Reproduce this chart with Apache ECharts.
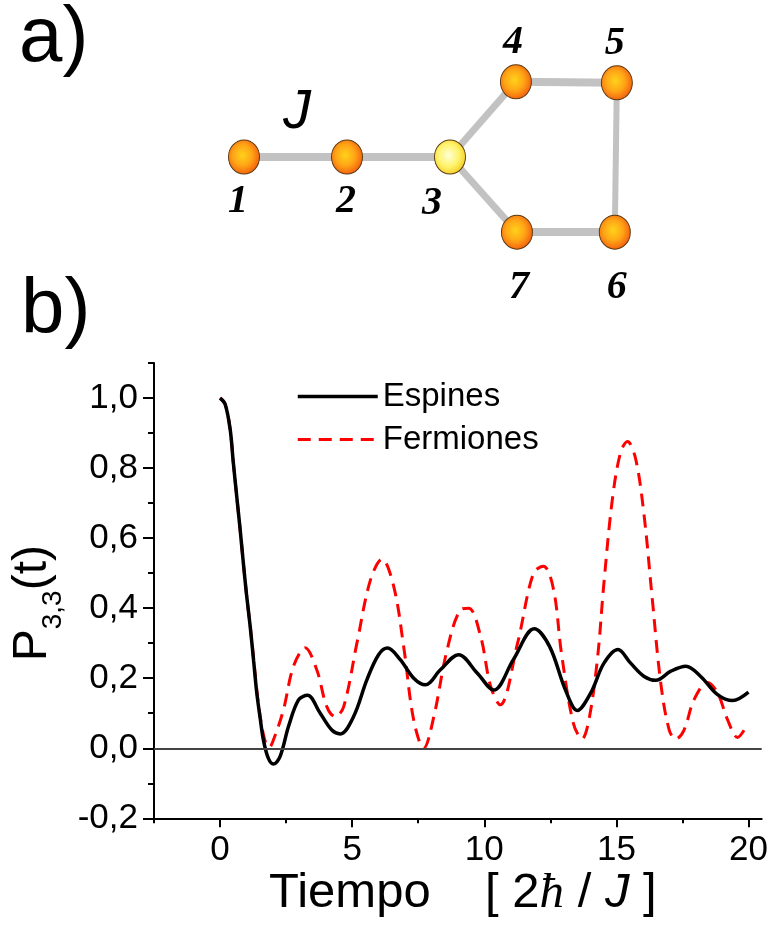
<!DOCTYPE html>
<html>
<head>
<meta charset="utf-8">
<script src="https://cdn.jsdelivr.net/npm/echarts@6/dist/echarts.min.js"></script>
<style>
  html, body { margin: 0; padding: 0; background: #ffffff; }
  #chart { width: 774px; height: 926px; }
</style>
</head>
<body>
<div id="chart"></div>
<script>
// ---- Panel a: the seven-site network (lattice units) ----
const siteNames = ['1', '2', '3', '4', '5', '6', '7'];
const siteX = [0, 1, 2, 2.64, 3.62, 3.60, 2.65];
const siteY = [0, 0, 0, 0.73, 0.72, -0.73, -0.73];
const bondSource = [0, 1, 2, 3, 4, 5, 6];
const bondTarget = [1, 2, 3, 4, 5, 6, 2];

// ---- Panel b: return probability P_3,3(t) ----
const tEspines = [0, 0.19, 0.38, 0.5, 0.63, 0.76, 0.88, 1.0, 1.14, 1.27, 1.39, 1.52, 1.64, 1.83, 2.02,
  2.27, 2.59, 2.97, 3.31, 3.79, 4.23, 4.55, 5.05, 5.56, 6.0, 6.34, 6.82, 7.33, 7.77, 8.34, 9.03,
  9.73, 10.36, 11.10, 11.89, 12.47, 13.07, 13.52, 14.03, 14.53, 15.06, 15.54, 16.05, 16.49, 17.06,
  17.63, 18.19, 18.83, 19.40, 20.0];
const pEspines = [1.0, 0.983, 0.912, 0.817, 0.72, 0.625, 0.53, 0.44, 0.348, 0.25, 0.158, 0.085, 0.024, -0.029, -0.045,
  -0.024, 0.062, 0.138, 0.151, 0.10, 0.052, 0.041, 0.09, 0.196, 0.267, 0.286, 0.253, 0.20, 0.181, 0.224, 0.267,
  0.215, 0.166, 0.253, 0.341, 0.291, 0.167, 0.108, 0.158, 0.243, 0.282, 0.243, 0.205, 0.194, 0.22,
  0.234, 0.205, 0.153, 0.136, 0.16];

const tFermiones = [0, 0.19, 0.38, 0.5, 0.63, 0.76, 0.88, 1.0, 1.14, 1.27, 1.39, 1.52, 1.64, 1.75, 1.86,
  2.05, 2.40, 2.78, 3.22, 3.66, 4.04, 4.36, 4.68, 5.18, 5.69, 6.13, 6.57, 6.95, 7.33, 7.71, 8.09,
  8.59, 9.10, 9.41, 9.86, 10.24, 10.60, 11.26, 11.86, 12.24, 12.62, 12.92, 13.37, 13.70, 13.96,
  14.28, 14.53, 14.85, 15.16, 15.42, 15.73, 16.05, 16.36, 16.68, 17.0, 17.25, 17.56, 17.94, 18.45,
  18.83, 19.21, 19.59, 19.9];
const pFermiones = [1.0, 0.983, 0.912, 0.817, 0.72, 0.625, 0.53, 0.44, 0.35, 0.255, 0.165, 0.09, 0.04, 0.012, 0.003,
  0.03, 0.11, 0.234, 0.287, 0.224, 0.119, 0.09, 0.119, 0.30, 0.48, 0.54, 0.463, 0.29, 0.08, 0.0, 0.09,
  0.28, 0.395, 0.40, 0.32, 0.177, 0.124, 0.30, 0.50, 0.52, 0.454, 0.272, 0.072, 0.027, 0.081,
  0.253, 0.473, 0.712, 0.845, 0.876, 0.826, 0.664, 0.425, 0.186, 0.052, 0.026, 0.052, 0.139, 0.188,
  0.158, 0.081, 0.031, 0.06];

const xMajorTicks = [0, 5, 10, 15, 20];
const xMinorTicks = [-2.5, 2.5, 7.5, 12.5, 17.5];
const yMajorTicks = [-0.2, 0, 0.2, 0.4, 0.6, 0.8, 1.0];
const yMinorTicks = [-0.1, 0.1, 0.3, 0.5, 0.7, 0.9, 1.1];

// ---- styling ----
const SANS = 'Liberation Sans';
const SERIF = 'Liberation Serif';
const siteGradient = {
  type: 'radial', x: 0.45, y: 0.45, r: 0.6,
  colorStops: [
    { offset: 0, color: '#ffd21a' },
    { offset: 0.5, color: '#ffa516' },
    { offset: 1, color: '#f2540e' }
  ]
};
const centerGradient = {
  type: 'radial', x: 0.45, y: 0.45, r: 0.6,
  colorStops: [
    { offset: 0, color: '#ffffd8' },
    { offset: 0.55, color: '#fff36a' },
    { offset: 1, color: '#f2c81c' }
  ]
};
const labelOffsets = [[-6, 45], [-1, 45], [-18, 47], [-3, -39], [-2, -39], [2, 55], [2, 55]];
const bondWidths = [8, 8, 7, 8, 6, 8, 7];

const nodes = siteNames.map((name, i) => ({
  name: name,
  value: [siteX[i], siteY[i]],
  symbolSize: [31, 34],
  itemStyle: {
    color: name === '3' ? centerGradient : siteGradient,
    borderColor: '#5a3a10', borderWidth: 1
  },
  label: { offset: labelOffsets[i] }
}));
const bonds = bondSource.map((s, i) => ({
  source: s, target: bondTarget[i],
  lineStyle: { width: bondWidths[i] }
}));

const decimalComma = v => v.toFixed(1).replace('.', ',');

const option = {
  animation: false,
  backgroundColor: '#ffffff',
  grid: [
    { left: 154, top: 363, right: 12.3, bottom: 107.7 },
    { left: 38, top: 2.5, width: 721, height: 309 }
  ],
  legend: {
    data: [
      { name: 'Espines', lineStyle: { width: 3.5, color: '#000', type: 'solid' } },
      { name: 'Fermiones', lineStyle: { width: 3, color: '#ff0000', type: [13, 8] } }
    ],
    orient: 'vertical',
    left: 291, top: 375,
    itemWidth: 80, itemHeight: 24, itemGap: 10,
    itemStyle: { opacity: 0 },
    textStyle: { fontSize: 33, fontFamily: SANS, color: '#000' }
  },
  xAxis: [
    {
      gridIndex: 0, type: 'value', min: -2.5, max: 20.5, interval: 2.5,
      axisLine: { onZero: false, lineStyle: { color: '#000', width: 2 } },
      axisTick: { customValues: xMajorTicks, length: 9, lineStyle: { color: '#000', width: 2 } },
      axisLabel: {
        customValues: xMajorTicks, margin: 15, fontSize: 35, fontFamily: SANS, color: '#000',
        formatter: v => (Math.abs(v % 5) < 1e-9 ? String(v) : '')
      },
      splitLine: { show: false },
      name: 'Tiempo    [ 2{h|ħ} / {j|J} ]',
      nameLocation: 'middle', nameGap: 44,
      nameTextStyle: {
        fontSize: 49, fontFamily: SANS, color: '#000', padding: [0, 0, 0, 10],
        rich: {
          h: { fontSize: 49, fontFamily: SERIF, fontStyle: 'italic', color: '#000' },
          j: { fontSize: 49, fontFamily: SANS, fontStyle: 'italic', color: '#000' }
        }
      }
    },
    {
      gridIndex: 0, type: 'value', min: -2.5, max: 20.5, interval: 2.5, position: 'bottom',
      axisLine: { show: false, onZero: false },
      axisTick: { customValues: xMinorTicks, length: 5, lineStyle: { color: '#000', width: 2 } },
      axisLabel: { show: false },
      splitLine: { show: false }
    },
    { gridIndex: 1, type: 'value', min: -2, max: 5, show: false }
  ],
  yAxis: [
    {
      gridIndex: 0, type: 'value', min: -0.2, max: 1.1, interval: 0.1,
      axisLine: { show: true, onZero: false, lineStyle: { color: '#000', width: 2 } },
      axisTick: { show: true, customValues: yMajorTicks, length: 11, lineStyle: { color: '#000', width: 2 } },
      axisLabel: {
        customValues: yMajorTicks, margin: 16, fontSize: 35, fontFamily: SANS, color: '#000',
        formatter: decimalComma
      },
      splitLine: { show: false },
      name: '{p|P}{s|3,3}{p|(t)}',
      nameLocation: 'middle', nameRotate: 90, nameGap: 86,
      nameTextStyle: {
        padding: [0, 25, 0, 0],
        rich: {
          p: { fontSize: 48, lineHeight: 48, fontFamily: SANS, color: '#000', verticalAlign: 'top' },
          s: { fontSize: 28, lineHeight: 28, fontFamily: SANS, color: '#000', verticalAlign: 'top', padding: [30, 0, 0, 0] }
        }
      }
    },
    {
      gridIndex: 0, type: 'value', min: -0.2, max: 1.1, interval: 0.1, position: 'left',
      axisLine: { show: false, onZero: false },
      axisTick: { show: true, customValues: yMinorTicks, length: 6, lineStyle: { color: '#000', width: 2 } },
      axisLabel: { show: false },
      splitLine: { show: false }
    },
    { gridIndex: 1, type: 'value', min: -1.5, max: 1.5, show: false }
  ],
  graphic: [
    { type: 'text', left: 19, top: 0, style: { text: 'a)', font: '78px "Liberation Sans"', fill: '#000' } },
    { type: 'text', left: 21, top: 272, style: { text: 'b)', font: '78px "Liberation Sans"', fill: '#000' } },
    { type: 'text', left: 283, top: 84, style: { text: 'J', font: 'italic 56px "Liberation Sans"', fill: '#000' } }
  ],
  series: [
    {
      type: 'graph',
      coordinateSystem: 'cartesian2d',
      xAxisIndex: 2, yAxisIndex: 2,
      silent: true,
      data: nodes,
      links: bonds,
      lineStyle: { color: '#c2c2c2', opacity: 1, curveness: 0 },
      label: {
        show: true, position: 'inside',
        formatter: p => p.name,
        fontSize: 40, fontFamily: SERIF, fontStyle: 'italic', fontWeight: 'bold', color: '#000'
      },
      emphasis: { disabled: true }
    },
    {
      name: 'Fermiones',
      type: 'line',
      xAxisIndex: 0, yAxisIndex: 0,
      data: tFermiones.map((t, i) => [t, pFermiones[i]]),
      symbol: 'none', showSymbol: false,
      smooth: 0.35,
      lineStyle: { color: '#ff0000', width: 3, type: [13, 8] },
      itemStyle: { color: '#ff0000' },
      z: 2
    },
    {
      name: 'Espines',
      type: 'line',
      xAxisIndex: 0, yAxisIndex: 0,
      data: tEspines.map((t, i) => [t, pEspines[i]]),
      symbol: 'none', showSymbol: false,
      smooth: 0.35,
      lineStyle: { color: '#000000', width: 3.5 },
      itemStyle: { color: '#000000' },
      z: 3,
      markLine: {
        silent: true, symbol: 'none', label: { show: false },
        lineStyle: { color: '#444', width: 2, type: 'solid' },
        data: [{ yAxis: 0 }]
      }
    }
  ]
};

const chart = echarts.init(document.getElementById('chart'), null, { renderer: 'canvas' });
chart.setOption(option);
</script>
</body>
</html>
